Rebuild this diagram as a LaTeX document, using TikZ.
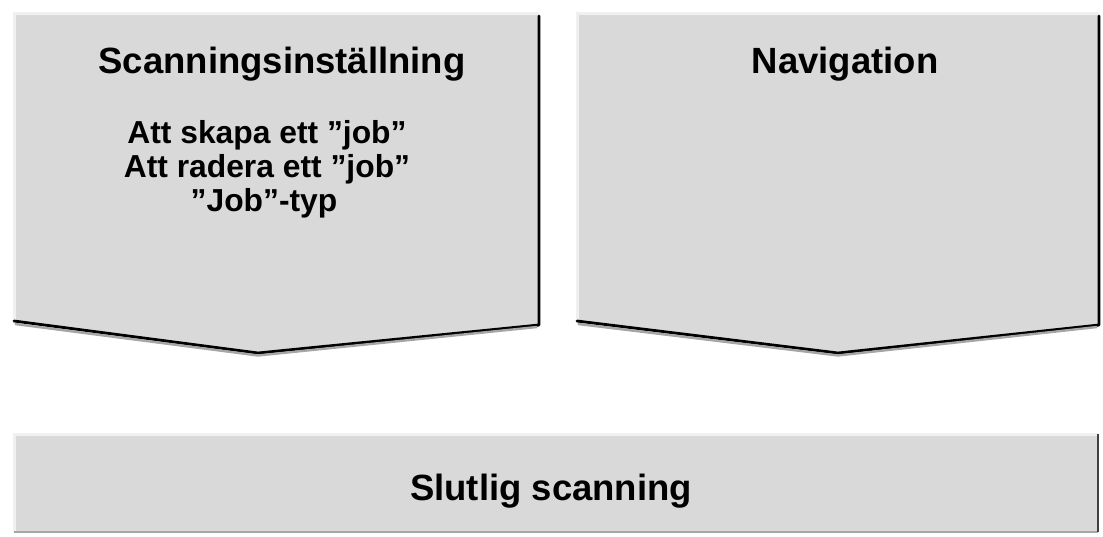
\documentclass[tikz,border=0pt]{standalone}
\usepackage{fontspec}
\setmainfont{Liberation Sans}
\definecolor{boxfill}{HTML}{D9D9D9}
\definecolor{bevelgrey}{HTML}{A6A6A6}
\definecolor{lightedge}{HTML}{F0F0F0}
\tikzset{
  boxshape/.style={fill=boxfill, draw=none},
  darkedge/.style={draw=black, line width=2.8pt, line cap=round, line join=round},
  greyedge/.style={draw=bevelgrey, line width=2.4pt, line join=round},
  litedge/.style={draw=lightedge, line width=3pt},
  titletext/.style={font=\bfseries\fontsize{36.5}{40}\selectfont, inner sep=0pt, anchor=base},
  subtext/.style={font=\bfseries\fontsize{31.8}{34}\selectfont, inner sep=0pt, anchor=base},
}
\begin{document}
\begin{tikzpicture}[x=1pt,y=-1pt]
\useasboundingbox (0,0) rectangle (1103,536);
% left chevron
\coordinate (L1) at (14,13);
\coordinate (L2) at (539,13);
\coordinate (L3) at (539,327);
\coordinate (L4) at (258,356);
\coordinate (L5) at (14,324);
\fill[boxshape] (L1) -- (L2) -- (L3) -- (L4) -- (L5) -- cycle;
\draw[litedge] (L5) -- (L1) -- (L2);
\draw[darkedge] ([yshift=-3pt]L2) -- ([yshift=2pt]L3) -- ([yshift=3pt]L4) -- ([yshift=3pt]L5);
\draw[greyedge] ([xshift=-2pt]L3) -- ([yshift=0.5pt]L4) -- ([xshift=1pt]L5);
% right chevron
\coordinate (R1) at (577,13);
\coordinate (R2) at (1099,13);
\coordinate (R3) at (1099,327);
\coordinate (R4) at (838,356);
\coordinate (R5) at (577,324);
\fill[boxshape] (R1) -- (R2) -- (R3) -- (R4) -- (R5) -- cycle;
\draw[litedge] (R5) -- (R1) -- (R2);
\draw[darkedge] ([yshift=-3pt]R2) -- ([yshift=2pt]R3) -- ([yshift=3pt]R4) -- ([yshift=3pt]R5);
\draw[greyedge] ([xshift=-2pt]R3) -- ([yshift=0.5pt]R4) -- ([xshift=1pt]R5);
% bottom bar
\coordinate (B1) at (14,434);
\coordinate (B2) at (1098,434);
\coordinate (B3) at (1098,532);
\coordinate (B4) at (14,532);
\fill[boxshape] (B1) -- (B2) -- (B3) -- (B4) -- cycle;
\draw[litedge] (B4) -- (B1) -- (B2);
\draw[greyedge] (B4) -- (B3);
\draw[draw=black!75, line width=2.4pt] (B2) -- (B3);
% texts
\node[titletext] (t1) at (282,73) {Scanningsinställning};
\node[subtext] (s1) at (267,143) {Att skapa ett ”job”};
\node[subtext] (s2) at (267,177) {Att radera ett ”job”};
\node[subtext] (s3) at (264,211) {”Job”-typ};
\node[titletext] (t2) at (845,73) {Navigation};
\node[titletext] (t3) at (551,500) {Slutlig scanning};
\end{tikzpicture}
\end{document}
